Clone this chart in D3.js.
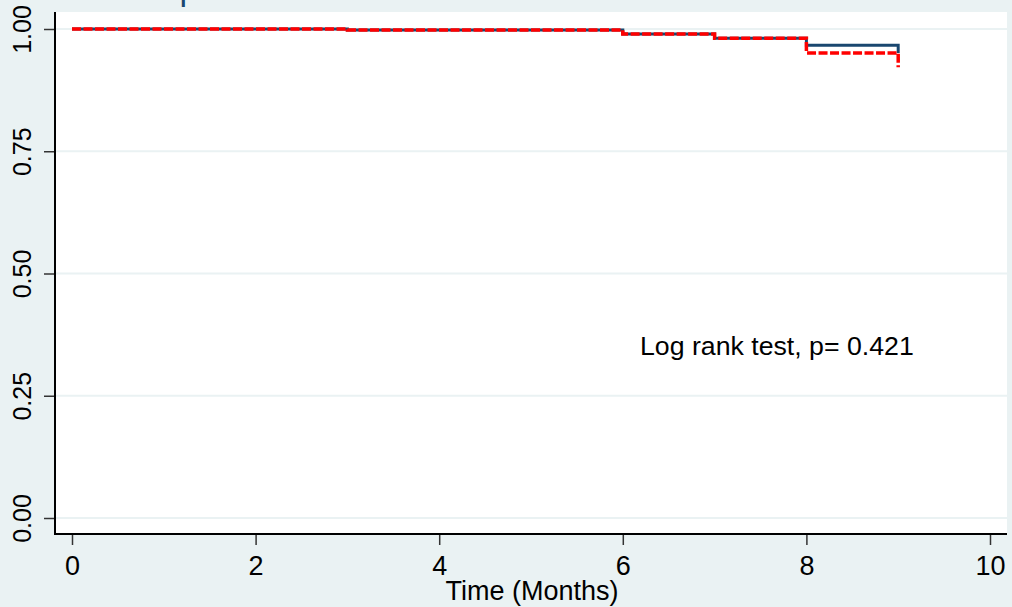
<!DOCTYPE html>
<html>
<head>
<meta charset="utf-8">
<script src="https://cdn.jsdelivr.net/npm/d3@7"></script>
<style>
body { margin: 0; background: #eaf2f3; }
text { font-family: Arial, "Liberation Sans", sans-serif; }
</style>
</head>
<body>
<div id="chart"></div>
<script>
var width = 1012
var height = 607

// data
var xTicks = [0, 2, 4, 6, 8, 10]
var yTicks = [0, 0.25, 0.5, 0.75, 1]
var stepTimes = [0, 3, 6, 7, 8, 9]
var survGroup1 = [1.000, 0.998, 0.990, 0.981, 0.967, 0.951]
var survGroup2 = [1.000, 0.998, 0.990, 0.981, 0.951, 0.922]
var titleText = "Kaplan-Meier survival estimates"
var noteText = "Log rank test, p= 0.421"
var xTitle = "Time (Months)"

var svg = d3.select("#chart").append("svg")
            .attr("width", width).attr("height", height)

svg.append("rect").attr("width", width).attr("height", height).attr("fill", "#eaf2f3")

var plot = { left: 55, top: 12, right: 1007, bottom: 534 }

var x = d3.scaleLinear().domain([0, 10]).range([72, 990])
var y = d3.scaleLinear().domain([0, 1]).range([518, 29])

// title sits above the page edge, only the descender of "p" shows
svg.append("text")
   .attr("x", 138).attr("y", -0.5)
   .attr("font-size", 34)
   .attr("fill", "#1a476f")
   .text(titleText)

svg.append("rect")
   .attr("x", plot.left).attr("y", plot.top)
   .attr("width", plot.right - plot.left)
   .attr("height", plot.bottom - plot.top)
   .attr("fill", "white")

// grid
svg.selectAll(".grid")
   .data(yTicks)
   .enter()
   .append("line")
   .attr("x1", plot.left).attr("x2", plot.right)
   .attr("y1", function(d){ return y(d) })
   .attr("y2", function(d){ return y(d) })
   .style("stroke", "#eaf2f3")
   .style("stroke-width", 2)

// y axis
var yAxis = d3.axisLeft(y).tickValues(yTicks).tickSize(11).tickFormat(d3.format(".2f"))
var gy = svg.append("g").attr("transform", "translate(" + plot.left + ",0)").call(yAxis)
gy.select(".domain").remove()
gy.selectAll(".tick line").style("stroke", "#333").style("stroke-width", 1.5)
gy.selectAll(".tick text")
  .attr("x", 0).attr("y", 0).attr("dy", 0)
  .attr("transform", "translate(-24,0) rotate(-90)")
  .attr("text-anchor", "middle")
  .attr("font-size", 25)
  .attr("font-family", "Arial, 'Liberation Sans', sans-serif")
  .attr("fill", "black")
svg.append("line")
   .attr("x1", plot.left).attr("x2", plot.left)
   .attr("y1", plot.top).attr("y2", plot.bottom + 1)
   .style("stroke", "black").style("stroke-width", 2)

// x axis
var xAxis = d3.axisBottom(x).tickValues(xTicks).tickSize(11).tickFormat(d3.format("d"))
var gx = svg.append("g").attr("transform", "translate(0," + plot.bottom + ")").call(xAxis)
gx.select(".domain").remove()
gx.selectAll(".tick line").style("stroke", "#333").style("stroke-width", 1.5)
gx.selectAll(".tick text")
  .attr("y", 41).attr("dy", 0)
  .attr("font-size", 27)
  .attr("font-family", "Arial, 'Liberation Sans', sans-serif")
  .attr("fill", "black")
svg.append("line")
   .attr("x1", plot.left - 1).attr("x2", plot.right)
   .attr("y1", plot.bottom).attr("y2", plot.bottom)
   .style("stroke", "black").style("stroke-width", 2)

svg.append("text")
   .attr("x", 532).attr("y", 600)
   .attr("text-anchor", "middle")
   .attr("font-size", 27)
   .text(xTitle)

// survival curves, step after each event time, final drop at t=9
var line = d3.line()
             .x(function(d){ return x(d.t) })
             .y(function(d){ return y(d.s) })
             .curve(d3.curveStepAfter)

function stepPath(vals) {
  var pts = stepTimes.map(function(t, i){ return { t: t, s: vals[i] } })
  var a = pts.slice(0, pts.length - 1)
  var last = pts[pts.length - 1]
  return line(a) + "L" + x(last.t) + "," + y(a[a.length - 1].s) + "L" + x(last.t) + "," + y(last.s)
}

svg.append("path")
   .attr("d", stepPath(survGroup1))
   .attr("fill", "none")
   .style("stroke", "#1a476f")
   .style("stroke-width", 3)

svg.append("path")
   .attr("d", stepPath(survGroup2))
   .attr("fill", "none")
   .style("stroke", "#ff0000")
   .style("stroke-width", 3.5)
   .style("stroke-dasharray", "9,2.5")

svg.append("text")
   .attr("x", 640).attr("y", 355)
   .attr("font-size", 26.7)
   .text(noteText)
</script>
</body>
</html>
